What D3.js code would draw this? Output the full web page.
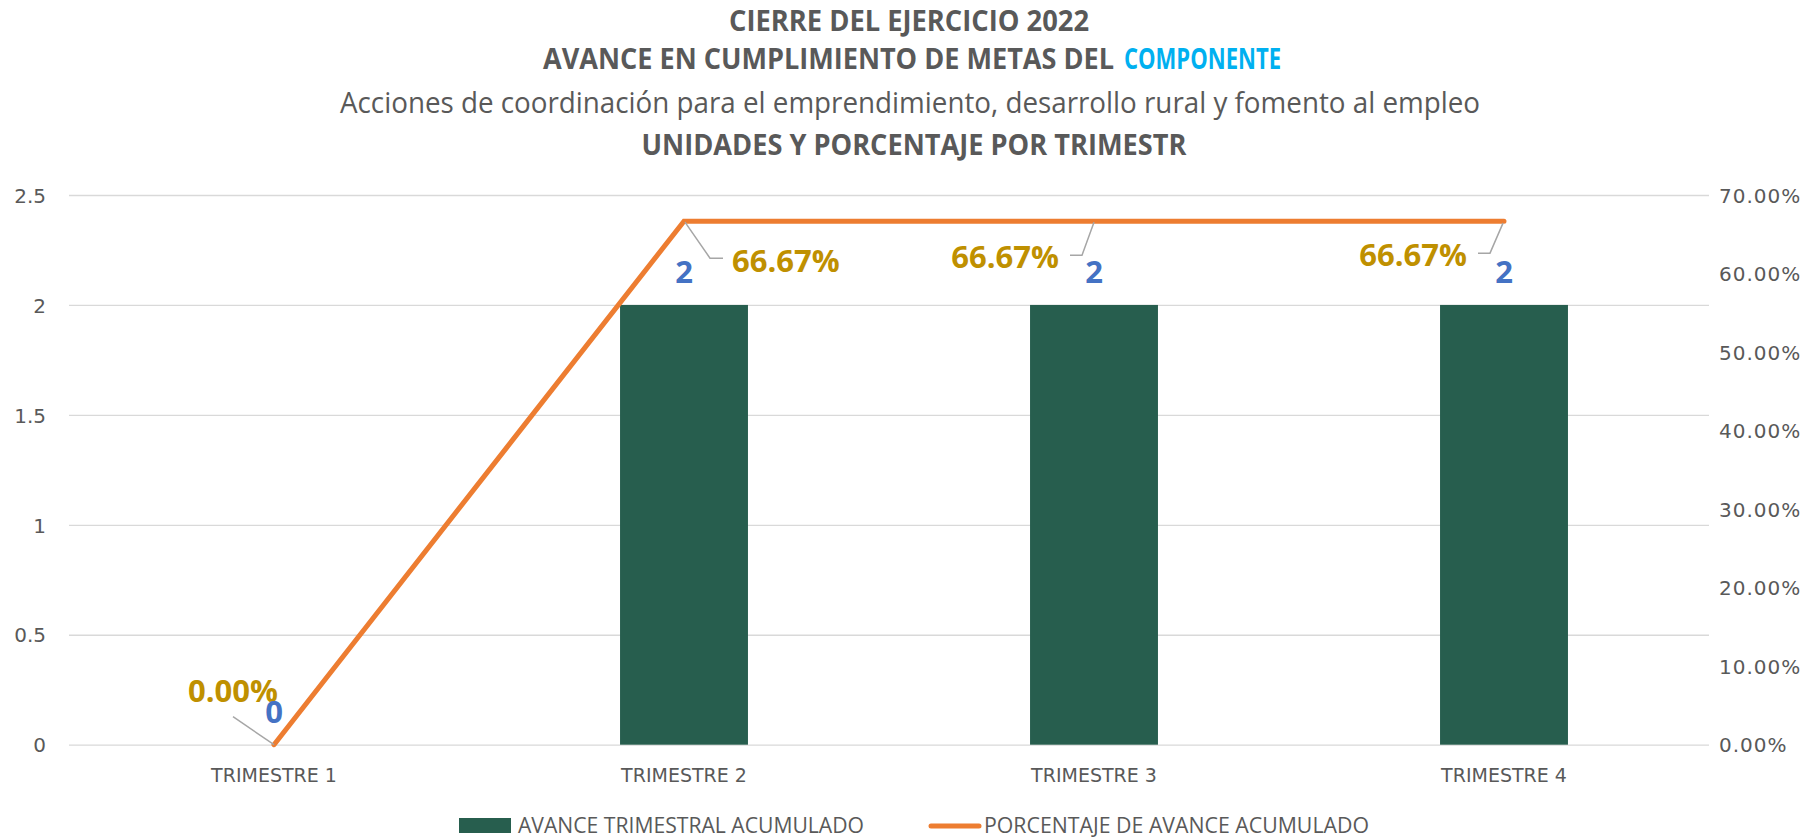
<!DOCTYPE html>
<html>
<head>
<meta charset="utf-8">
<script src="https://cdn.jsdelivr.net/npm/d3@7"></script>
<style>
  html, body { margin: 0; padding: 0; background: #fff; }
  svg { display: block; }
</style>
</head>
<body>
<div id="chart"></div>
<script>
// data
const categories = ["TRIMESTRE 1", "TRIMESTRE 2", "TRIMESTRE 3", "TRIMESTRE 4"];
const avanceAcumulado = [0, 2, 2, 2];
const porcentajeAvance = [0, 0.6667, 0.6667, 0.6667];
const leftTicks = [0, 0.5, 1, 1.5, 2, 2.5];
const rightTicks = [0, 0.1, 0.2, 0.3, 0.4, 0.5, 0.6, 0.7];
const seriesNames = ["AVANCE TRIMESTRAL ACUMULADO", "PORCENTAJE DE AVANCE ACUMULADO"];

// label placement (style, not data): offsets from the line point
const pctLabelStyle = [
  { dx: 4, dy: -43, anchor: "end", leader: [[-41, -28], [0, 0]] },
  { dx: 48, dy: 51, anchor: "start", leader: [[1, 1], [26, 37], [39, 37]] },
  { dx: -35, dy: 47, anchor: "end", leader: [[0, 1], [-12, 34], [-24, 34]] },
  { dx: -37, dy: 45, anchor: "end", leader: [[-1, 2], [-14, 32], [-26, 32]] }
];

const width = 1809, height = 838;
const plotLeft = 69, plotRight = 1709, plotTop = 195, plotBottom = 744.7;

const narrow = "'Liberation Sans Narrow', 'Arial Narrow', 'Open Sans', sans-serif";
const axisFont = "'DejaVu Sans', 'Segoe UI', sans-serif";
const labelFont = "'Open Sans', 'Segoe UI', sans-serif";
const grey = "#595959";
const barColor = "#275E4E";
const lineColor = "#ED7D31";

const svg = d3.select("#chart").append("svg")
  .attr("width", width)
  .attr("height", height);

svg.append("rect").attr("width", width).attr("height", height).attr("fill", "#fff");

const x = d3.scaleBand().domain(categories).range([plotLeft, plotRight])
  .paddingInner(0.688).paddingOuter(0.344);
const yL = d3.scaleLinear().domain([0, 2.5]).range([plotBottom, plotTop]);
const yR = d3.scaleLinear().domain([0, 0.7]).range([plotBottom, plotTop]);
const cx = c => x(c) + x.bandwidth() / 2;

// gridlines
svg.append("g")
  .attr("transform", `translate(${plotLeft},0)`)
  .call(d3.axisLeft(yL).tickValues(leftTicks).tickSize(-(plotRight - plotLeft)).tickFormat(""))
  .call(g => g.select(".domain").remove())
  .call(g => g.selectAll("line").attr("stroke", "#D9D9D9").attr("stroke-width", 1.3));

// left axis
svg.append("g")
  .attr("transform", `translate(${plotLeft},0)`)
  .call(d3.axisLeft(yL).tickValues(leftTicks).tickSize(0).tickPadding(23).tickFormat(d3.format("")))
  .call(g => g.select(".domain").remove())
  .call(g => g.selectAll("text").attr("fill", grey).style("font", `20px ${axisFont}`).attr("dy", "0.36em"));

// right axis
svg.append("g")
  .attr("transform", `translate(${plotRight},0)`)
  .call(d3.axisRight(yR).tickValues(rightTicks).tickSize(0).tickPadding(10).tickFormat(d3.format(".2%")))
  .call(g => g.select(".domain").remove())
  .call(g => g.selectAll("text").attr("fill", grey).style("font", `20px ${axisFont}`)
    .attr("letter-spacing", "1px").attr("dy", "0.36em"));

// category axis
svg.append("g")
  .attr("transform", `translate(0,${plotBottom})`)
  .call(d3.axisBottom(x).tickSize(0).tickPadding(24))
  .call(g => g.select(".domain").remove())
  .call(g => g.selectAll("text").attr("fill", grey).style("font", `19px ${axisFont}`));

// bars
svg.append("g").selectAll("rect")
  .data(avanceAcumulado)
  .join("rect")
  .attr("x", (d, i) => x(categories[i]))
  .attr("width", x.bandwidth())
  .attr("y", d => yL(d))
  .attr("height", d => plotBottom - yL(d))
  .attr("fill", barColor);

// line
const line = d3.line()
  .x((d, i) => cx(categories[i]))
  .y(d => yR(d));

svg.append("path")
  .datum(porcentajeAvance)
  .attr("d", line)
  .attr("fill", "none")
  .attr("stroke", lineColor)
  .attr("stroke-width", 5)
  .attr("stroke-linecap", "round")
  .attr("stroke-linejoin", "miter");

// leader lines + percentage labels
const pctG = svg.append("g");
porcentajeAvance.forEach((v, i) => {
  const px = cx(categories[i]), py = yR(v);
  const s = pctLabelStyle[i];
  pctG.append("path")
    .attr("d", d3.line()(s.leader.map(p => [px + p[0], py + p[1]])))
    .attr("fill", "none")
    .attr("stroke", "#A6A6A6")
    .attr("stroke-width", 1.5);
  pctG.append("text")
    .attr("x", px + s.dx)
    .attr("y", py + s.dy)
    .attr("text-anchor", s.anchor)
    .attr("fill", "#BF9000")
    .style("font", `bold 31px ${labelFont}`)
    .text(d3.format(".2%")(v));
});

// value labels
svg.append("g").selectAll("text")
  .data(avanceAcumulado)
  .join("text")
  .attr("x", (d, i) => cx(categories[i]))
  .attr("y", d => yL(d) - 22)
  .attr("text-anchor", "middle")
  .attr("fill", "#4472C4")
  .style("font", `bold 31px ${labelFont}`)
  .text(d => d);

// titles
const titles = svg.append("g").attr("fill", grey);
titles.append("text")
  .attr("x", 909).attr("y", 31)
  .attr("text-anchor", "middle")
  .style("font", `bold 28px ${narrow}`)
  .attr("textLength", 360).attr("lengthAdjust", "spacingAndGlyphs")
  .text("CIERRE DEL EJERCICIO 2022");

titles.append("text")
  .attr("x", 543).attr("y", 69)
  .style("font", `bold 28px ${narrow}`)
  .attr("textLength", 571).attr("lengthAdjust", "spacingAndGlyphs")
  .text("AVANCE EN CUMPLIMIENTO DE METAS DEL");
titles.append("text")
  .attr("x", 1124).attr("y", 69)
  .attr("fill", "#00B0F0")
  .style("font", `bold 28px ${narrow}`)
  .attr("textLength", 157).attr("lengthAdjust", "spacingAndGlyphs")
  .text("COMPONENTE");

titles.append("text")
  .attr("x", 910).attr("y", 113)
  .attr("text-anchor", "middle")
  .style("font", `29px ${narrow}`)
  .attr("textLength", 1140).attr("lengthAdjust", "spacingAndGlyphs")
  .text("Acciones de coordinación para el emprendimiento, desarrollo rural y fomento al empleo");

titles.append("text")
  .attr("x", 914).attr("y", 155)
  .attr("text-anchor", "middle")
  .style("font", `bold 28px ${narrow}`)
  .attr("textLength", 545).attr("lengthAdjust", "spacingAndGlyphs")
  .text("UNIDADES Y PORCENTAJE POR TRIMESTR");

// legend
const legend = svg.append("g").attr("fill", grey);
legend.append("rect")
  .attr("x", 459).attr("y", 818).attr("width", 52).attr("height", 15)
  .attr("fill", barColor);
legend.append("text")
  .attr("x", 518).attr("y", 833)
  .style("font", `22px ${narrow}`)
  .attr("textLength", 346).attr("lengthAdjust", "spacingAndGlyphs")
  .text(seriesNames[0]);
legend.append("line")
  .attr("x1", 931).attr("x2", 979).attr("y1", 826).attr("y2", 826)
  .attr("stroke", lineColor).attr("stroke-width", 5).attr("stroke-linecap", "round");
legend.append("text")
  .attr("x", 984).attr("y", 833)
  .style("font", `22px ${narrow}`)
  .attr("textLength", 385).attr("lengthAdjust", "spacingAndGlyphs")
  .text(seriesNames[1]);
</script>
</body>
</html>
